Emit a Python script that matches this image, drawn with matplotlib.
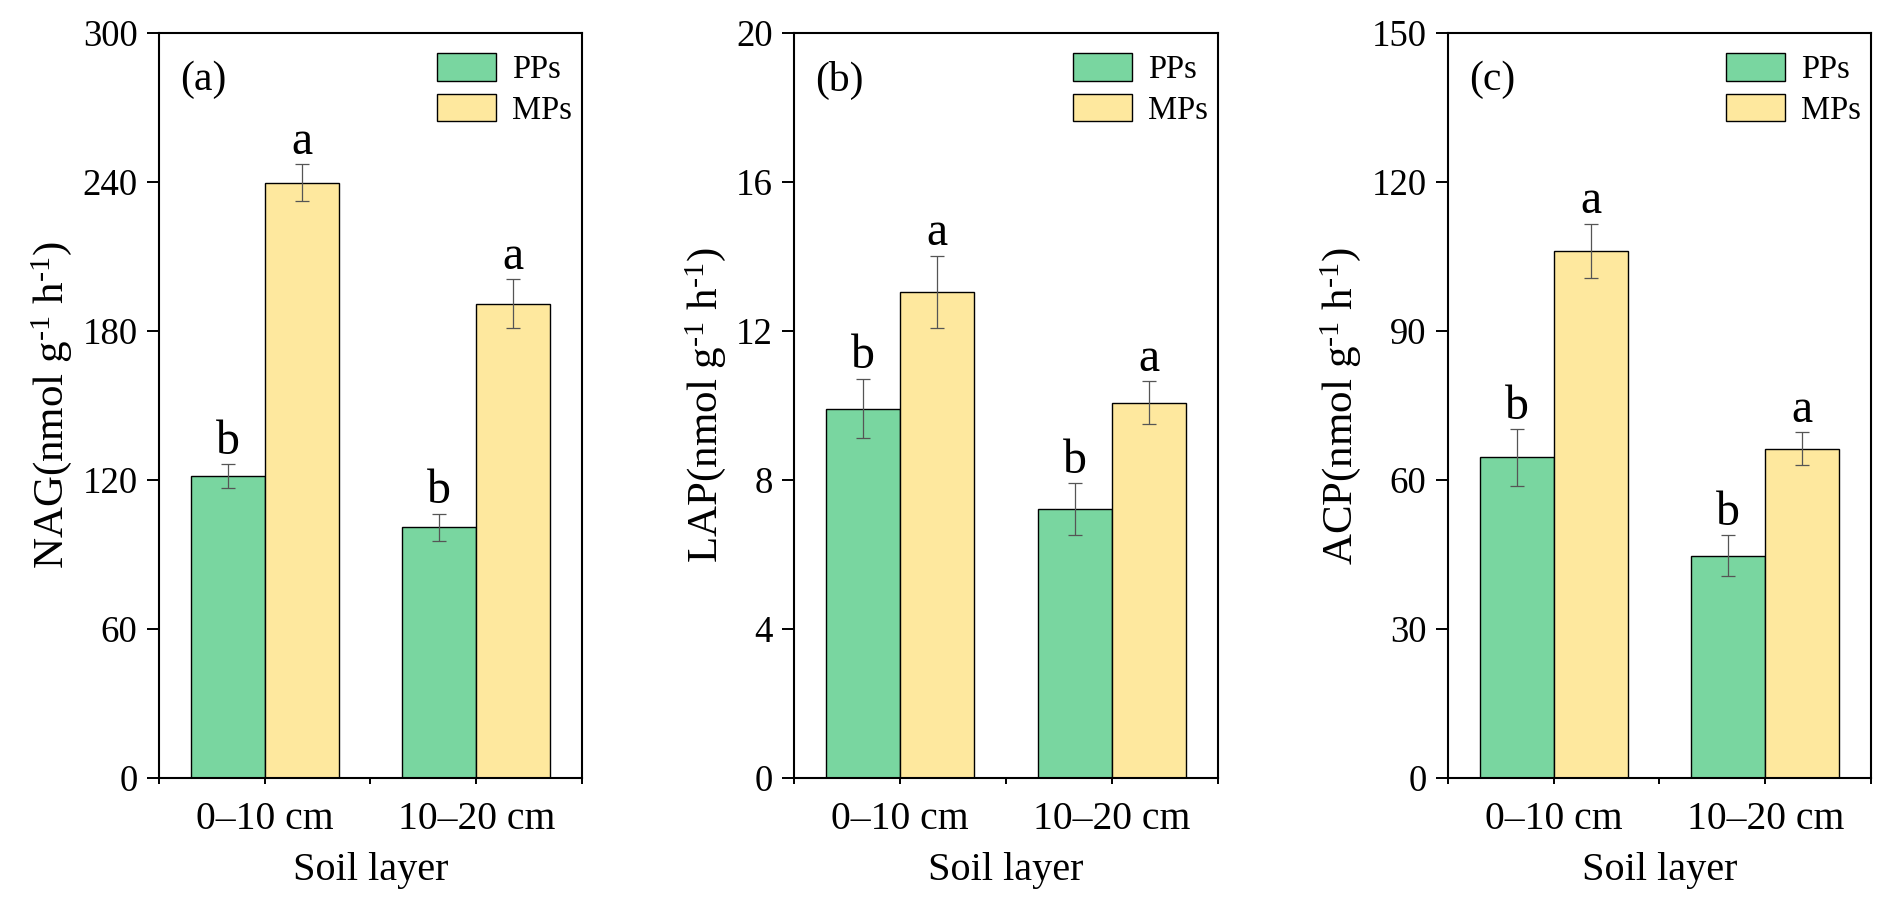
import matplotlib
matplotlib.use('Agg')
import matplotlib.pyplot as plt
import numpy as np

# Fonts (Times-like)
plt.rcParams['font.family'] = ['Liberation Serif', 'DejaVu Serif']
plt.rcParams['mathtext.fontset'] = 'custom'
plt.rcParams['mathtext.rm'] = 'Liberation Serif'
plt.rcParams['mathtext.it'] = 'Liberation Serif:italic'
plt.rcParams['mathtext.default'] = 'regular'

# Data
layers = ['0\u201310 cm', '10\u201320 cm']
groups = ['PPs', 'MPs']

nag_pp = [121.5, 101]
nag_pp_err = [4.8, 5.5]
nag_mp = [239.8, 191]
nag_mp_err = [7.4, 9.8]
nag_letters_pp = ['b', 'b']
nag_letters_mp = ['a', 'a']

lap_pp = [9.92, 7.22]
lap_pp_err = [0.80, 0.69]
lap_mp = [13.06, 10.08]
lap_mp_err = [0.97, 0.58]
lap_letters_pp = ['b', 'b']
lap_letters_mp = ['a', 'a']

acp_pp = [64.6, 44.8]
acp_pp_err = [5.7, 4.1]
acp_mp = [106.2, 66.3]
acp_mp_err = [5.4, 3.3]
acp_letters_pp = ['b', 'b']
acp_letters_mp = ['a', 'a']

green = '#79D6A0'
yellow = '#FEE89E'

panels = [
    ('(a)', 'NAG', nag_pp, nag_pp_err, nag_mp, nag_mp_err, nag_letters_pp, nag_letters_mp, 300, 60),
    ('(b)', 'LAP', lap_pp, lap_pp_err, lap_mp, lap_mp_err, lap_letters_pp, lap_letters_mp, 20, 4),
    ('(c)', 'ACP', acp_pp, acp_pp_err, acp_mp, acp_mp_err, acp_letters_pp, acp_letters_mp, 150, 30),
]

fig = plt.figure(figsize=(18.92, 9.13), dpi=100)
lefts = [0.0840, 0.4199, 0.7653]
bottom = 0.1479
width = 0.2236
height = 0.8157

x = np.arange(1, len(layers) + 1)
bw = 0.35

for left, (tag, name, pp, pp_err, mp, mp_err, let_pp, let_mp, ymax, ystep) in zip(lefts, panels):
    ax = fig.add_axes([left, bottom, width, height])
    ax.bar(x - bw / 2, pp, bw, color=green, edgecolor='black', linewidth=1.0, label=groups[0], zorder=2)
    ax.bar(x + bw / 2, mp, bw, color=yellow, edgecolor='black', linewidth=1.0, label=groups[1], zorder=2)
    ax.errorbar(x - bw / 2, pp, yerr=pp_err, fmt='none', ecolor='#555555', elinewidth=0.9,
                capsize=4.8, capthick=0.9, zorder=3)
    ax.errorbar(x + bw / 2, mp, yerr=mp_err, fmt='none', ecolor='#555555', elinewidth=0.9,
                capsize=4.8, capthick=0.9, zorder=3)

    # significance letters
    for xi, v, e, t in zip(x - bw / 2, pp, pp_err, let_pp):
        ax.annotate(t, (xi, v + e), xytext=(0, 7.5), textcoords='offset points',
                    ha='center', va='baseline', fontsize=34.5)
    for xi, v, e, t in zip(x + bw / 2, mp, mp_err, let_mp):
        ax.annotate(t, (xi, v + e), xytext=(0, 7.5), textcoords='offset points',
                    ha='center', va='baseline', fontsize=34.5)

    ax.set_xlim(0.5, 2.5)
    ax.set_ylim(0, ymax)
    ax.set_yticks(np.arange(0, ymax + ystep / 2, ystep))
    ax.set_xticks(x)
    ax.set_xticklabels(layers)
    ax.set_xticks([0.5, 1.5, 2.5], minor=True)
    ax.tick_params(axis='y', direction='out', length=8.4, width=1.4, labelsize=26.5, pad=7)
    ax.tick_params(axis='x', which='both', direction='out', length=4.5, width=1.4, labelsize=28.5, pad=12)
    for sp in ax.spines.values():
        sp.set_linewidth(1.5)

    ax.set_xlabel('Soil layer', fontsize=29, labelpad=10)
    ax.set_ylabel(name + r'(nmol g$^{\text{-}1}$ h$^{\text{-}1}$)', fontsize=31, labelpad=6)

    ax.text(0.05, 0.963, tag, transform=ax.transAxes, ha='left', va='top', fontsize=30)
    ax.legend(loc='upper right', bbox_to_anchor=(1.0, 0.986), frameon=False, fontsize=23.5,
              handlelength=1.8, handleheight=0.9, labelspacing=0.27, handletextpad=0.5,
              borderaxespad=0.15, borderpad=0.15)

plt.savefig('out.png', dpi=100)
